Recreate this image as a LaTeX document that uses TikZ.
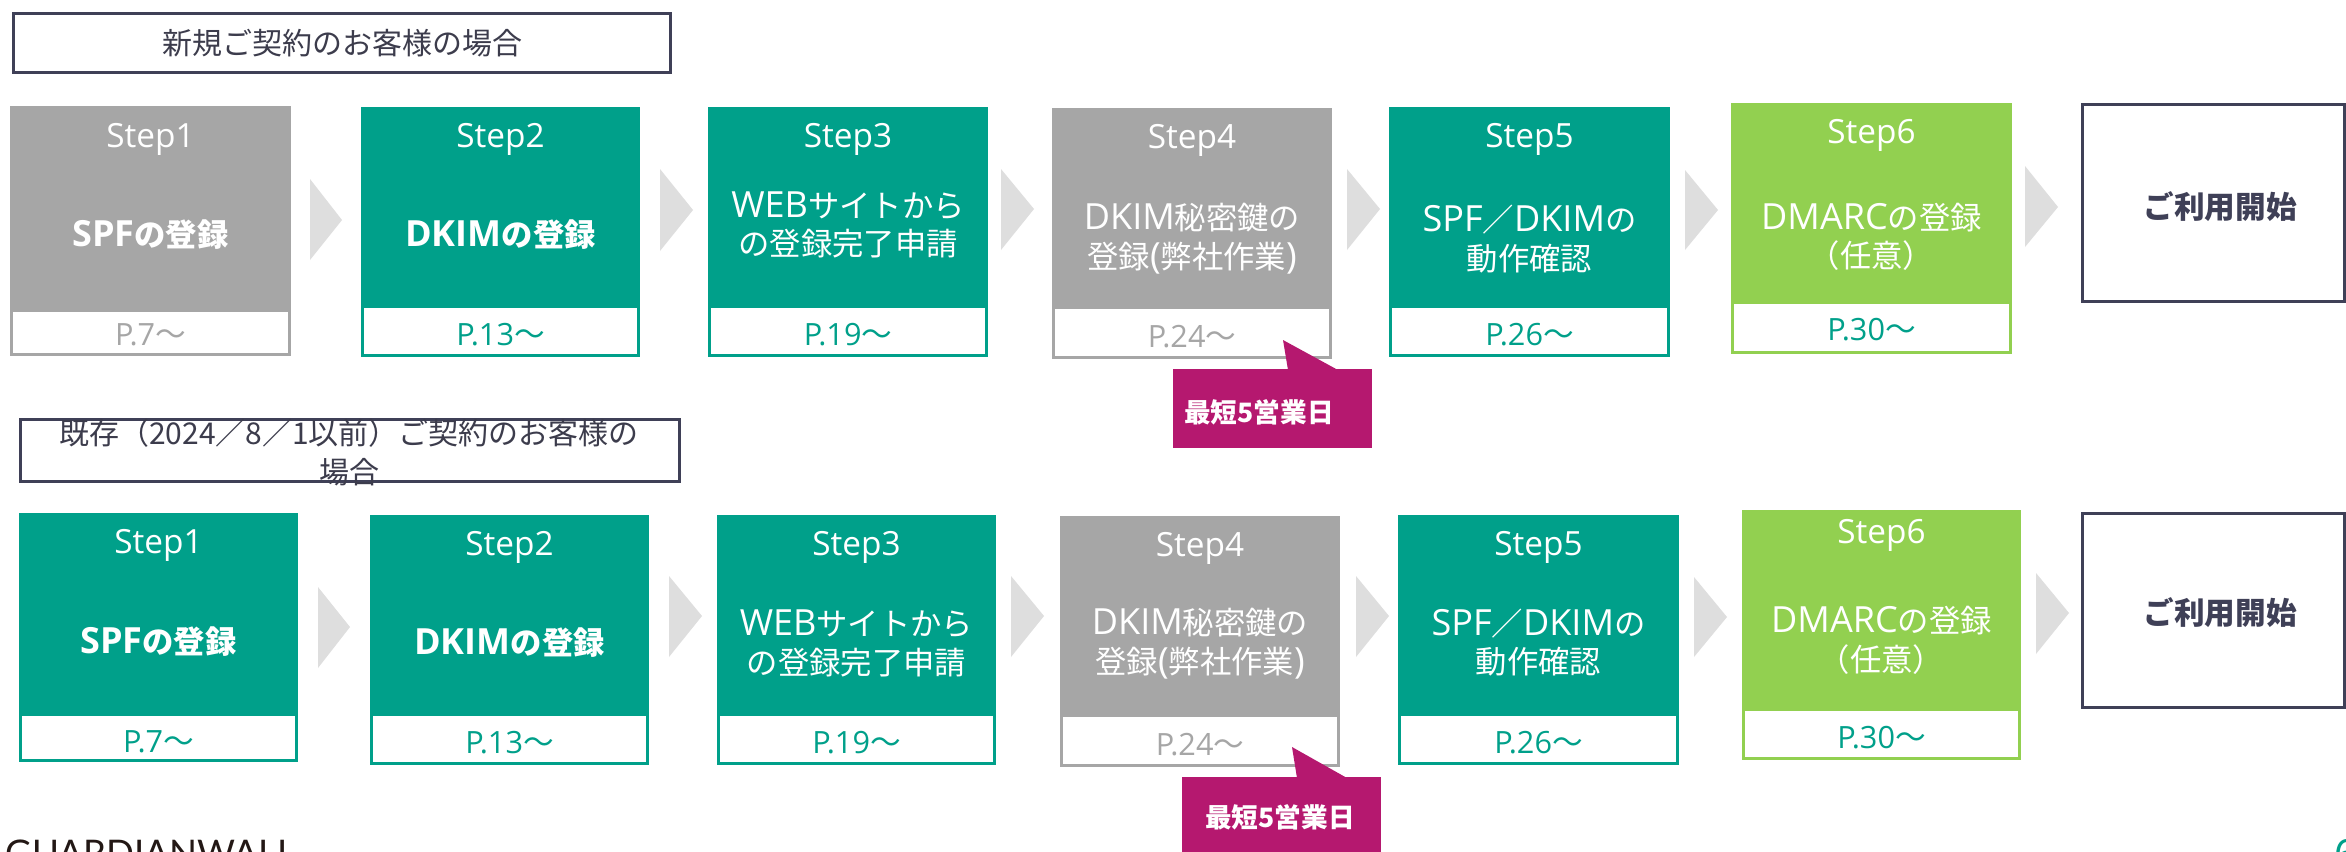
\documentclass[tikz,border=0pt]{standalone}
\usepackage{fontspec}
\setmainfont{Noto Sans CJK JP}
\newfontfamily\logofont{Lato}
\newfontfamily\latm[Scale=1.15]{Open Sans}
\newfontfamily\latp{Open Sans}
\newcommand{\mylat}[1]{{\latm #1}}
\usetikzlibrary{fit,calc}
\definecolor{teal1}{HTML}{00A08A}
\definecolor{gray1}{HTML}{A6A6A6}
\definecolor{green1}{HTML}{92D050}
\definecolor{chevc}{HTML}{DEDEDE}
\definecolor{navy}{HTML}{3F4057}
\definecolor{mag}{HTML}{B5186F}
\definecolor{hdrtext}{HTML}{3C3C4C}
\definecolor{logoc}{HTML}{231815}
\tikzset{
  mybox/.style={inner sep=0pt, outer sep=0pt, fill=#1},
  myinner/.style={inner sep=0pt, outer sep=0pt, fill=white},
  mylbl/.style={text=white, font=\latp\fontsize{25}{30}\selectfont, inner sep=0pt, anchor=base},
  mymainb/.style={text=white, font=\fontsize{23.5}{29}\selectfont\bfseries, inner sep=0pt, align=center},
  mymainr/.style={text=white, font=\fontsize{23.5}{29}\selectfont, inner sep=0pt, align=center},
  mypage/.style={text=#1, font=\fontsize{23}{28}\selectfont, inner sep=0pt, anchor=base},
  mychev/.style={fill=chevc},
  myhdr/.style={draw=navy, line width=2.25pt, inner sep=0pt, outer sep=0pt},
  myhdrtext/.style={text=hdrtext, font=\fontsize{22.5}{29.25}\selectfont, inner sep=0pt, align=center},
  mystart/.style={text=navy, font=\fontsize{23}{28}\selectfont\bfseries, inner sep=0pt},
  mycall/.style={fill=mag, inner sep=0pt, outer sep=0pt},
  mycalltext/.style={text=white, font=\fontsize{20}{24}\selectfont\bfseries, inner sep=0pt},
}
\begin{document}
\begin{tikzpicture}[x=0.75pt,y=-0.75pt]
\useasboundingbox (0,0) rectangle (2346,851);
\clip (0,0) rectangle (2346,851);
\fill[white] (0,0) rectangle (2346,851);

% ---------- Row 1 ----------
\node[myhdr, fit={(13.5,13.5)(670.5,72.5)}] (h1) {};
\node[myhdrtext] (h1t) at (342,43) {新規ご契約のお客様の場合};

\node[mybox=gray1, fit={(10,106)(291,356)}] (a1) {};
\node[myinner, fit={(13,312)(288,353)}] (a1p) {};
\node[mylbl] (a1l) at (150.5,147) {Step1};
\node[mymainb] (a1m) at (150.5,235) {\mylat{SPF}の登録};
\node[mypage=gray1] (a1t) at (150.5,345) {{\latp P.7}〜};

\node[mybox=teal1, fit={(361,107)(640,357)}] (a2) {};
\node[myinner, fit={(364,308)(637,354)}] (a2p) {};
\node[mylbl] (a2l) at (500.5,147) {Step2};
\node[mymainb] (a2m) at (500.5,235) {\mylat{DKIM}の登録};
\node[mypage=teal1] (a2t) at (500.5,345) {{\latp P.13}〜};

\node[mybox=teal1, fit={(708,107)(988,357)}] (a3) {};
\node[myinner, fit={(711,308)(985,354)}] (a3p) {};
\node[mylbl] (a3l) at (848,147) {Step3};
\node[mymainr] (a3m) at (848,225) {\mylat{WEB}サイトから\\の登録完了申請};
\node[mypage=teal1] (a3t) at (848,345) {{\latp P.19}〜};

\node[mybox=gray1, fit={(1052,108)(1332,359)}] (a4) {};
\node[myinner, fit={(1055,309)(1329,356)}] (a4p) {};
\node[mylbl] (a4l) at (1192,148) {Step4};
\node[mymainr] (a4m) at (1192,239) {\mylat{DKIM}秘密鍵の\\登録\mylat{(}弊社作業\mylat{)}};
\node[mypage=gray1] (a4t) at (1192,347) {{\latp P.24}〜};

\node[mybox=teal1, fit={(1389,107)(1670,357)}] (a5) {};
\node[myinner, fit={(1392,308)(1667,354)}] (a5p) {};
\node[mylbl] (a5l) at (1529.5,147) {Step5};
\node[mymainr] (a5m) at (1529.5,239) {\mylat{SPF}／\mylat{DKIM}の\\動作確認};
\node[mypage=teal1] (a5t) at (1529.5,345) {{\latp P.26}〜};

\node[mybox=green1, fit={(1731,103)(2012,354)}] (a6) {};
\node[myinner, fit={(1734,304)(2009,351)}] (a6p) {};
\node[mylbl] (a6l) at (1871.5,143) {Step6};
\node[mymainr] (a6m) at (1871.5,237) {\mylat{DMARC}の登録\\（任意）};
\node[mypage=teal1] (a6t) at (1871.5,340) {{\latp P.30}〜};

\node[myhdr, fit={(2082.5,104.5)(2344.5,301.5)}] (a7) {};
\node[mystart] (a7t) at (2220,207) {ご利用開始};

\fill[mychev] (310,179) -- (342,220) -- (310,260) -- cycle;
\fill[mychev] (660,169) -- (693,210) -- (660,251) -- cycle;
\fill[mychev] (1001,169) -- (1034,209) -- (1001,250) -- cycle;
\fill[mychev] (1347,169) -- (1380,209) -- (1347,250) -- cycle;
\fill[mychev] (1685,170) -- (1718,210) -- (1685,250) -- cycle;
\fill[mychev] (2025,166) -- (2058,207) -- (2025,247) -- cycle;

\node[mycall, fit={(1173,369)(1372,448)}] (k1) {};
\fill[mag] (1288,370) -- (1283,340) -- (1338,370) -- cycle;
\node[mycalltext] (k1t) at (1259,412) {最短5営業日};

% ---------- Row 2 ----------
\node[myhdr, fit={(20.5,419.5)(679.5,481.5)}] (h2) {};
\node[myhdrtext] (h2t) at (349,452.5) {既存（2024／8／1以前）ご契約のお客様の\\場合};

\node[mybox=teal1, fit={(19,513)(298,762)}] (b1) {};
\node[myinner, fit={(22,716)(295,759)}] (b1p) {};
\node[mylbl] (b1l) at (158.5,553) {Step1};
\node[mymainb] (b1m) at (158.5,642) {\mylat{SPF}の登録};
\node[mypage=teal1] (b1t) at (158.5,752) {{\latp P.7}〜};

\node[mybox=teal1, fit={(370,515)(649,765)}] (b2) {};
\node[myinner, fit={(373,716)(646,762)}] (b2p) {};
\node[mylbl] (b2l) at (509.5,555) {Step2};
\node[mymainb] (b2m) at (509.5,643) {\mylat{DKIM}の登録};
\node[mypage=teal1] (b2t) at (509.5,753) {{\latp P.13}〜};

\node[mybox=teal1, fit={(717,515)(996,765)}] (b3) {};
\node[myinner, fit={(720,716)(993,762)}] (b3p) {};
\node[mylbl] (b3l) at (856.5,555) {Step3};
\node[mymainr] (b3m) at (856.5,643.5) {\mylat{WEB}サイトから\\の登録完了申請};
\node[mypage=teal1] (b3t) at (856.5,753) {{\latp P.19}〜};

\node[mybox=gray1, fit={(1060,516)(1340,767)}] (b4) {};
\node[myinner, fit={(1063,717)(1337,764)}] (b4p) {};
\node[mylbl] (b4l) at (1200,556) {Step4};
\node[mymainr] (b4m) at (1200,644) {\mylat{DKIM}秘密鍵の\\登録\mylat{(}弊社作業\mylat{)}};
\node[mypage=gray1] (b4t) at (1200,755) {{\latp P.24}〜};

\node[mybox=teal1, fit={(1398,515)(1679,765)}] (b5) {};
\node[myinner, fit={(1401,716)(1676,762)}] (b5p) {};
\node[mylbl] (b5l) at (1538.5,555) {Step5};
\node[mymainr] (b5m) at (1538.5,642.5) {\mylat{SPF}／\mylat{DKIM}の\\動作確認};
\node[mypage=teal1] (b5t) at (1538.5,753) {{\latp P.26}〜};

\node[mybox=green1, fit={(1742,510)(2021,760)}] (b6) {};
\node[myinner, fit={(1745,711)(2018,757)}] (b6p) {};
\node[mylbl] (b6l) at (1881.5,543) {Step6};
\node[mymainr] (b6m) at (1881.5,640) {\mylat{DMARC}の登録\\（任意）};
\node[mypage=teal1] (b6t) at (1881.5,748) {{\latp P.30}〜};

\node[myhdr, fit={(2082.5,513.5)(2344.5,707.5)}] (b7) {};
\node[mystart] (b7t) at (2220,613) {ご利用開始};

\fill[mychev] (318,587) -- (350,627) -- (318,668) -- cycle;
\fill[mychev] (669,576) -- (702,616) -- (669,657) -- cycle;
\fill[mychev] (1011,576) -- (1044,616) -- (1011,657) -- cycle;
\fill[mychev] (1356,576) -- (1389,616) -- (1356,657) -- cycle;
\fill[mychev] (1694,577) -- (1727,617) -- (1694,657) -- cycle;
\fill[mychev] (2036,573) -- (2069,613) -- (2036,654) -- cycle;

\node[mycall, fit={(1182,777)(1381,870)}] (k2) {};
\fill[mag] (1297,778) -- (1292,747) -- (1347,778) -- cycle;
\node[mycalltext] (k2t) at (1280,817) {最短5営業日};

% ---------- footer ----------
\node[anchor=base west, inner sep=0pt, text=logoc, font=\logofont\fontsize{27.5}{30}\selectfont] (logo) at (5,866) {GUARDIANWALL};
\node[anchor=base west, inner sep=0pt, text=teal1, font=\fontsize{30}{34}\selectfont] (pnum) at (2334,868) {6};
\end{tikzpicture}
\end{document}
